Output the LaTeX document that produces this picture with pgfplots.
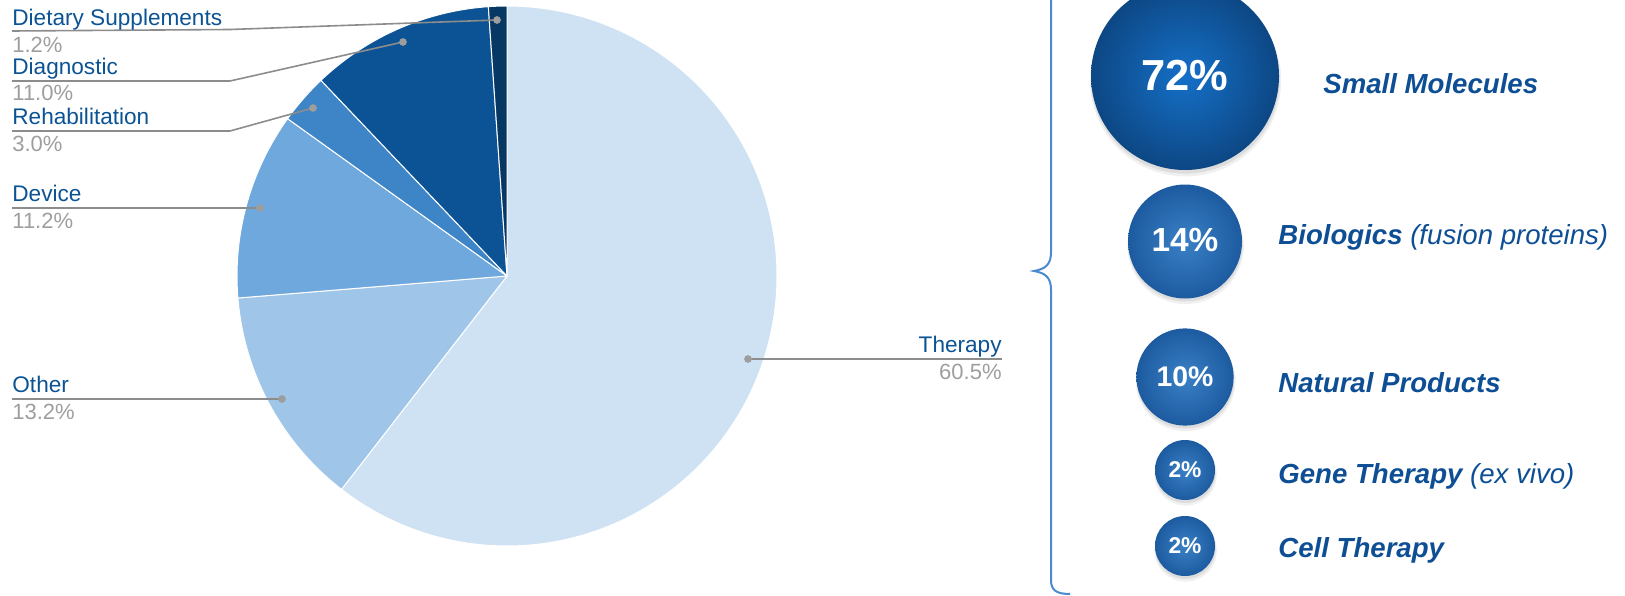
\documentclass[border=0pt]{standalone}
\usepackage{pgfplots}
\pgfplotsset{compat=1.18}
\usepackage{fontspec}
\setmainfont{Liberation Sans}
\definecolor{cT}{HTML}{CFE2F3}
\definecolor{cO}{HTML}{9FC5E8}
\definecolor{cD}{HTML}{6FA8DC}
\definecolor{cR}{HTML}{3D85C6}
\definecolor{cG}{HTML}{0B5394}
\definecolor{cS}{HTML}{073763}
\definecolor{lbl}{HTML}{0B5394}
\definecolor{pct}{HTML}{9E9E9E}
\definecolor{lead}{HTML}{8C8C8C}
\definecolor{txt}{HTML}{0D4E94}
\definecolor{bracec}{HTML}{4A8BD0}
\definecolor{bigIn}{HTML}{1570C8}
\definecolor{bigOut}{HTML}{0D4784}
\definecolor{smIn}{HTML}{3A80C6}
\definecolor{smOut}{HTML}{1D5BA0}
% pie shares (percent)
\def\vT{60.5}\def\vO{13.2}\def\vD{11.2}\def\vR{3.0}\def\vG{11.0}\def\vS{1.2}
\pgfmathsetmacro\aT{90-3.6*\vT}
\pgfmathsetmacro\aO{\aT-3.6*\vO}
\pgfmathsetmacro\aD{\aO-3.6*\vD}
\pgfmathsetmacro\aR{\aD-3.6*\vR}
\pgfmathsetmacro\aG{\aR-3.6*\vG}
\pgfdeclareplotmark{bubA}{%
  \fill[draw=none,black,opacity=0.06] (0.3pt,-2.4pt) circle [radius=\pgfplotmarksize+0.8pt];
  \fill[draw=none,black,opacity=0.08] (0.2pt,-1.6pt) circle [radius=\pgfplotmarksize+0.2pt];
  \shade[draw=none, inner color=bigIn, outer color=bigOut] (0,0) circle [radius=\pgfplotmarksize];}
\pgfdeclareplotmark{bubB}{%
  \fill[draw=none,black,opacity=0.06] (0.3pt,-2.2pt) circle [radius=\pgfplotmarksize+0.6pt];
  \fill[draw=none,black,opacity=0.08] (0.2pt,-1.4pt) circle [radius=\pgfplotmarksize+0.1pt];
  \shade[draw=none, inner color=smIn, outer color=smOut] (0,0) circle [radius=\pgfplotmarksize];}
\newcommand\lab[1]{\fontsize{11.3}{13}\selectfont\textcolor{lbl}{#1}}
\newcommand\pc[1]{\fontsize{11}{13}\selectfont\textcolor{pct}{#1}}
\newcommand\rl{\fontsize{13.8}{16}\selectfont\itshape}
\begin{document}
\begin{tikzpicture}
\begin{axis}[width=812.5pt, height=297.5pt, scale only axis,
  xmin=0, xmax=1625, ymin=0, ymax=595, y dir=reverse,
  hide axis, clip=false]
% pie wedges
\addplot[fill=cT, draw=white, line width=0.5pt, domain=\aT:90, samples=150, variable=\t] ({507+270*cos(\t)},{276-270*sin(\t)}) -- (axis cs:507,276) -- cycle;
\addplot[fill=cO, draw=white, line width=0.5pt, domain=\aO:\aT, samples=40, variable=\t] ({507+270*cos(\t)},{276-270*sin(\t)}) -- (axis cs:507,276) -- cycle;
\addplot[fill=cD, draw=white, line width=0.5pt, domain=\aD:\aO, samples=40, variable=\t] ({507+270*cos(\t)},{276-270*sin(\t)}) -- (axis cs:507,276) -- cycle;
\addplot[fill=cR, draw=white, line width=0.5pt, domain=\aR:\aD, samples=15, variable=\t] ({507+270*cos(\t)},{276-270*sin(\t)}) -- (axis cs:507,276) -- cycle;
\addplot[fill=cG, draw=white, line width=0.5pt, domain=\aG:\aR, samples=40, variable=\t] ({507+270*cos(\t)},{276-270*sin(\t)}) -- (axis cs:507,276) -- cycle;
\addplot[fill=cS, draw=white, line width=0.5pt, domain=-270:\aG, samples=8, variable=\t] ({507+270*cos(\t)},{276-270*sin(\t)}) -- (axis cs:507,276) -- cycle;
% leader lines
\addplot[lead, line width=0.8pt] coordinates {(12,31) (230,29.5) (497,20)};
\addplot[lead, line width=0.8pt] coordinates {(12,81) (230,81) (403,42)};
\addplot[lead, line width=0.8pt] coordinates {(12,131) (230,131) (313,108)};
\addplot[lead, line width=0.8pt] coordinates {(12,208) (260,208)};
\addplot[lead, line width=0.8pt] coordinates {(12,399) (282,399)};
\addplot[lead, line width=0.8pt] coordinates {(748,359) (1002,359)};
\addplot[only marks, mark=*, mark size=1.7pt, lead!85, mark options={draw=none}] coordinates {(497,20) (403,42) (313,108) (260,208) (282,399) (748,359)};
% pie labels
\node[anchor=base west, inner sep=0] at (axis cs:12,25) {\lab{Dietary Supplements}};
\node[anchor=base west, inner sep=0] at (axis cs:12,52) {\pc{1.2\%}};
\node[anchor=base west, inner sep=0] at (axis cs:12,74) {\lab{Diagnostic}};
\node[anchor=base west, inner sep=0] at (axis cs:12,100) {\pc{11.0\%}};
\node[anchor=base west, inner sep=0] at (axis cs:12,124) {\lab{Rehabilitation}};
\node[anchor=base west, inner sep=0] at (axis cs:12,151) {\pc{3.0\%}};
\node[anchor=base west, inner sep=0] at (axis cs:12,201) {\lab{Device}};
\node[anchor=base west, inner sep=0] at (axis cs:12,228) {\pc{11.2\%}};
\node[anchor=base west, inner sep=0] at (axis cs:12,392) {\lab{Other}};
\node[anchor=base west, inner sep=0] at (axis cs:12,419) {\pc{13.2\%}};
\node[anchor=base east, inner sep=0] at (axis cs:1002,352) {\lab{Therapy}};
\node[anchor=base east, inner sep=0] at (axis cs:1002,379) {\pc{60.5\%}};
% brace
\draw[bracec, line width=1pt] (axis cs:1051,0) -- (axis cs:1051,252)
  .. controls (axis cs:1051,265) and (axis cs:1045,269) .. (axis cs:1034,271)
  .. controls (axis cs:1045,273) and (axis cs:1051,277) .. (axis cs:1051,290)
  -- (axis cs:1051,580) .. controls (axis cs:1051,590) and (axis cs:1056,594) .. (axis cs:1070,594);
% bubbles
\addplot[only marks, mark=bubA, mark size=47pt] coordinates {(1185,76)};
\addplot[only marks, mark=bubB, mark size=28.5pt] coordinates {(1185,241.5)};
\addplot[only marks, mark=bubB, mark size=24.3pt] coordinates {(1185,377)};
\addplot[only marks, mark=bubB, mark size=15pt] coordinates {(1185,470) (1185,546)};
\coordinate (b1) at (axis cs:1185,76);
\coordinate (b2) at (axis cs:1185,240);
\coordinate (b3) at (axis cs:1185,377);
\coordinate (b4) at (axis cs:1185,470);
\coordinate (b5) at (axis cs:1185,546);
% bubble labels
\node[anchor=base west, inner sep=0, text=txt, font=\rl] at (axis cs:1323,93) {\bfseries Small Molecules};
\node[anchor=base west, inner sep=0, text=txt, font=\rl] at (axis cs:1278,244) {\bfseries Biologics \mdseries(fusion proteins)};
\node[anchor=base west, inner sep=0, text=txt, font=\rl] at (axis cs:1278,392) {\bfseries Natural Products};
\node[anchor=base west, inner sep=0, text=txt, font=\rl] at (axis cs:1278,483) {\bfseries Gene Therapy \mdseries(ex vivo)};
\node[anchor=base west, inner sep=0, text=txt, font=\rl] at (axis cs:1278,557) {\bfseries Cell Therapy};
\end{axis}
\node[text=white, inner sep=0, font=\bfseries\fontsize{21.7}{24}\selectfont] at (b1) {72\%};
\node[text=white, inner sep=0, font=\bfseries\fontsize{16.7}{19}\selectfont] at (b2) {14\%};
\node[text=white, inner sep=0, font=\bfseries\fontsize{14.2}{16}\selectfont] at (b3) {10\%};
\node[text=white, inner sep=0, font=\bfseries\fontsize{11.4}{13}\selectfont] at (b4) {2\%};
\node[text=white, inner sep=0, font=\bfseries\fontsize{11.4}{13}\selectfont] at (b5) {2\%};
\pgfresetboundingbox
\path (current axis.south west) rectangle (current axis.north east);
\end{tikzpicture}
\end{document}
